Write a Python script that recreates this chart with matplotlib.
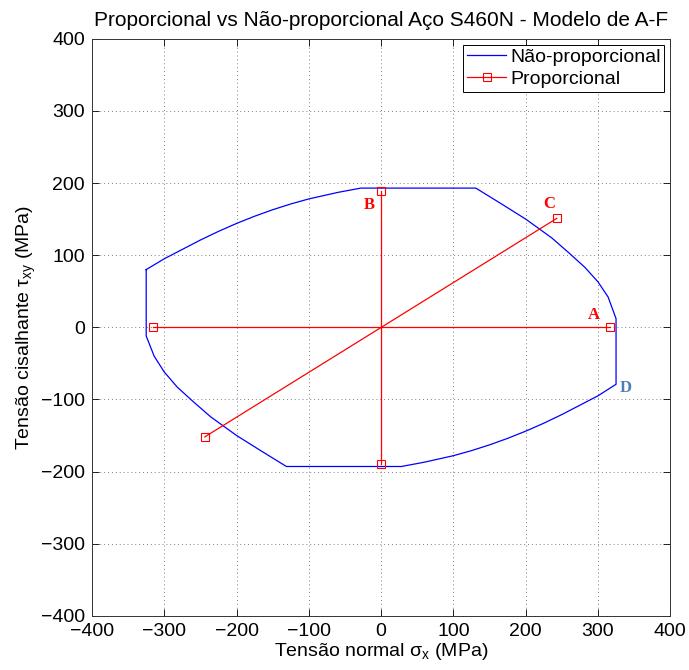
import numpy as np
import matplotlib.pyplot as plt

plt.rcParams['font.family'] = ['Liberation Sans', 'DejaVu Sans']
plt.rcParams['mathtext.default'] = 'regular'

# non-proportional envelope (sigma_x, tau_xy) in MPa
np_sx = [-325, -300, -275, -250, -225, -200, -175, -150, -125, -100, -60, -28,
         131, 165, 200, 236, 260, 282, 300, 314, 325,
         325, 300, 275, 250, 225, 200, 175, 150, 125, 100, 60, 28,
         -131, -165, -200, -236, -260, -282, -300, -314, -325, -325]
np_txy = [80, 95, 108, 121, 133, 144, 154, 163, 171, 178, 187, 193,
          193, 172, 150, 124, 103, 83, 63, 42, 12,
          -79, -95, -108, -121, -133, -144, -154, -163, -171, -178, -187, -193,
          -193, -172, -150, -124, -103, -83, -62, -40, -12, 80]

# proportional paths A, B, C
prop_sx = [[-316, 316], [0, 0], [-244, 243]]
prop_txy = [[0, 0], [-189, 189], [-152, 151]]

labels = ['A', 'B', 'C', 'D']
label_x = [294, -17, 233, 339]
label_y = [17, 170, 171, -84]
label_colors = ['red', 'red', 'red', '#4a7ebb']

fig = plt.figure(figsize=(6.89, 6.70), dpi=100)
ax = fig.add_axes([0.1335, 0.0809, 0.8393, 0.8612])

ax.plot(np_sx, np_txy, color='blue', lw=0.9, label='Não-proporcional')
for i in range(len(prop_sx)):
    ax.plot(prop_sx[i], prop_txy[i], color='red', lw=0.9, marker='s', ms=6, mfc='none',
            mew=0.8, label='Proporcional' if i == 0 else None)

for lab, x, y, c in zip(labels, label_x, label_y, label_colors):
    ax.text(x, y, lab, color=c, fontsize=12, fontweight='bold', family='Liberation Serif',
            ha='center', va='center')

ax.set_xlim(-400, 400)
ax.set_ylim(-400, 400)
ax.set_xticks(np.arange(-400, 401, 100))
ax.set_yticks(np.arange(-400, 401, 100))
ax.tick_params(direction='in', top=True, right=True, labelsize=14, length=5, width=0.6, pad=5)
ax.grid(True, linestyle=(0, (1, 3)), color='gray', lw=0.7)
for s in ax.spines.values():
    s.set_linewidth(0.7)
    s.set_color('#333333')

ax.set_title('Proporcional vs Não-proporcional Aço S460N - Modelo de A-F', fontsize=15, pad=9)
ax.set_xlabel(r'Tensão normal σ$_{x}$ (MPa)', fontsize=14, labelpad=1)
ax.set_ylabel(r'Tensão cisalhante τ$_{xy}$ (MPa)', fontsize=14, labelpad=2)

leg = ax.legend(loc='upper right', fontsize=14, fancybox=False, framealpha=1, edgecolor='black',
                borderaxespad=0.3, handlelength=2.0, handletextpad=0.2, borderpad=0.2, labelspacing=0.2)
leg.get_frame().set_linewidth(0.7)

fig.savefig('out.png', dpi=100)
